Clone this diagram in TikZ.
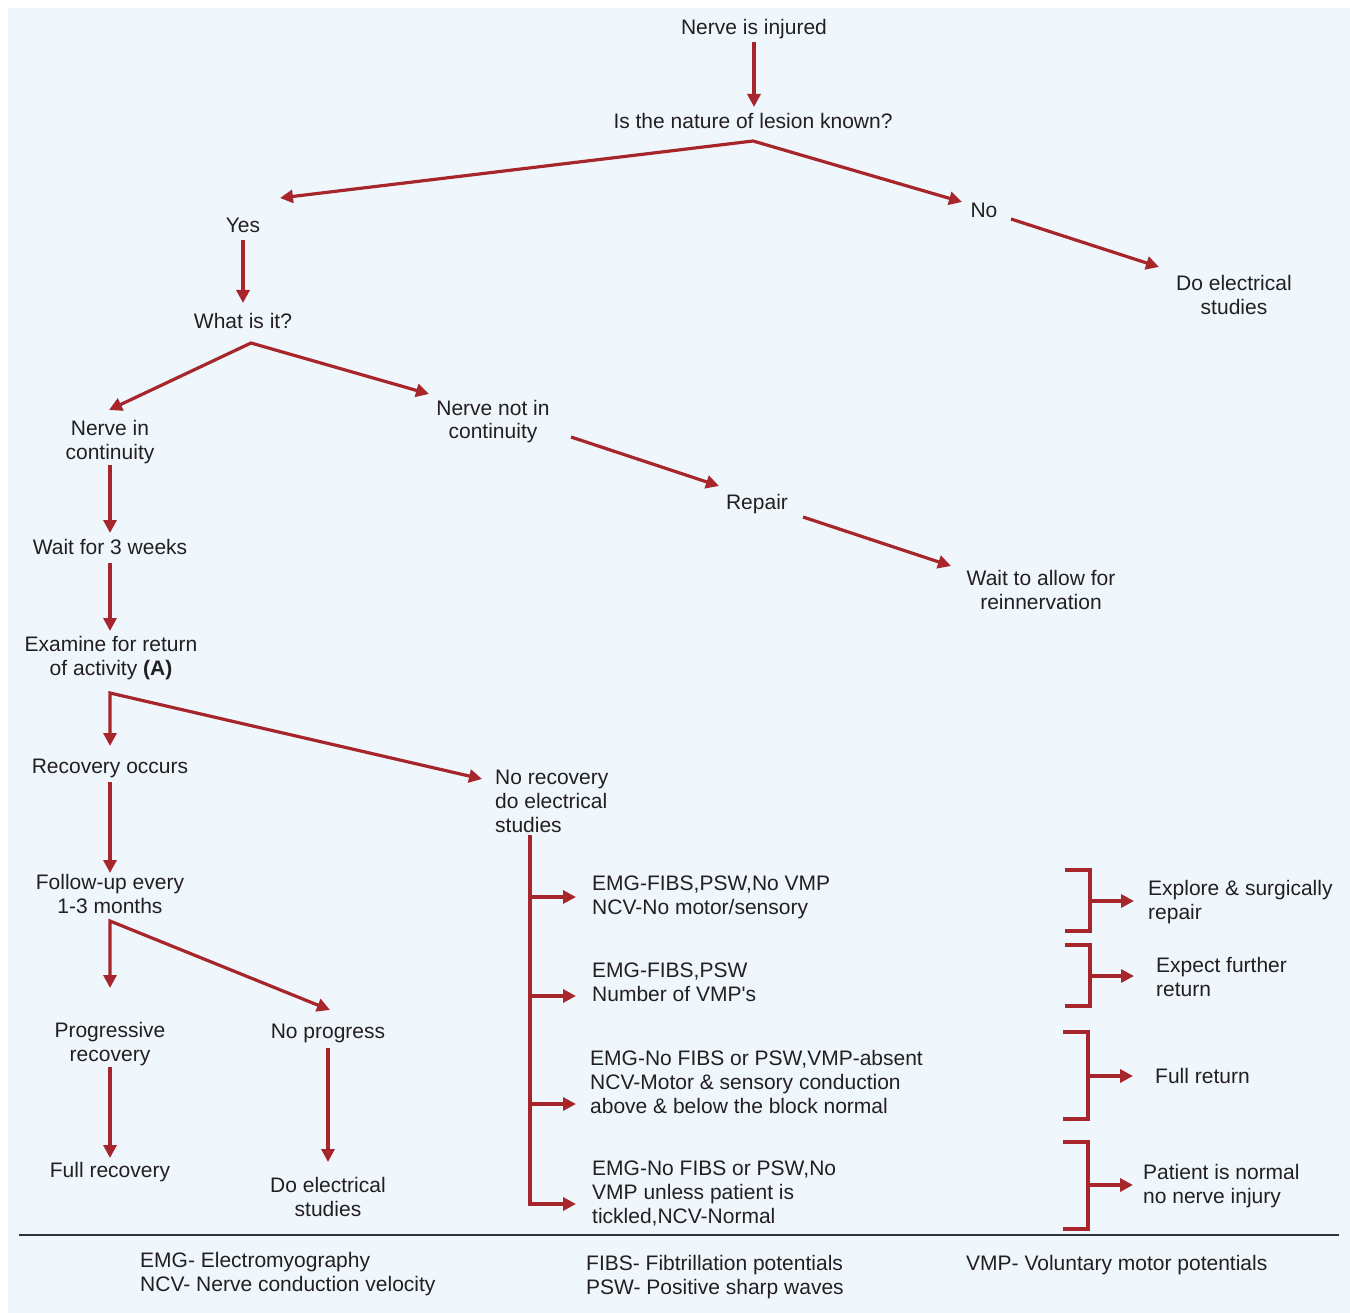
\documentclass[tikz,border=0pt]{standalone}
\usepackage{fontspec}
\setmainfont{Liberation Sans}
\usetikzlibrary{arrows.meta}
\definecolor{bgc}{RGB}{239,247,253}
\definecolor{arrc}{RGB}{166,38,43}
\definecolor{txtc}{RGB}{35,31,32}
\definecolor{rulec}{RGB}{51,51,51}
\begin{document}
\begin{tikzpicture}[x=1pt,y=-1pt,
  lbl/.style={anchor=base, align=center, inner sep=0pt, font=\fontsize{21}{24}\selectfont, text=txtc},
  lbll/.style={lbl, anchor=base west, align=left},
  conn/.style={draw=arrc, line width=3.2pt, -{Triangle[length=13pt,width=13pt]}},
  conntwo/.style={draw=arrc, line width=3.2pt, {Triangle[length=13pt,width=13pt]}-{Triangle[length=13pt,width=13pt]}},
  plainline/.style={draw=arrc, line width=3.2pt},
]
\useasboundingbox (0,0) rectangle (1350,1313);
\fill[bgc] (8,8) rectangle (1350,1313);

% ---------- nodes (base = baseline of last line) ----------
\node[lbl] (n1) at (754,35) {Nerve is injured};
\node[lbl] (n2) at (753,129) {Is the nature of lesion known?};
\node[lbl] (yes) at (243,233) {Yes};
\node[lbl] (no) at (984,218) {No};
\node[lbl] (des1) at (1234,315) {Do electrical\\studies};
\node[lbl] (what) at (243,329) {What is it?};
\node[lbl] (nic) at (110,460) {Nerve in\\continuity};
\node[lbl] (nnic) at (493,439) {Nerve not in\\continuity};
\node[lbl] (repair) at (757,510) {Repair};
\node[lbl] (waitr) at (1041,609) {Wait to allow for\\reinnervation};
\node[lbl] (w3) at (110,554) {Wait for 3 weeks};
\node[lbl] (exam) at (111,675) {Examine for return\\of activity \textbf{(A)}};
\node[lbl] (rec) at (110,773) {Recovery occurs};
\node[lbll] (norec) at (495,832) {No recovery\\do electrical\\studies};
\node[lbl] (fu) at (110,913) {Follow-up every\\1-3 months};
\node[lbl] (prog) at (110,1061) {Progressive\\recovery};
\node[lbl] (nop) at (328,1038) {No progress};
\node[lbl] (fullrec) at (110,1177) {Full recovery};
\node[lbl] (des2) at (328,1216) {Do electrical\\studies};

\node[lbll] (r1) at (592,914) {EMG-FIBS,PSW,No VMP\\NCV-No motor/sensory};
\node[lbll] (r2) at (592,1001) {EMG-FIBS,PSW\\Number of VMP\textquotesingle s};
\node[lbll] (r3) at (590,1113) {EMG-No FIBS or PSW,VMP-absent\\NCV-Motor \& sensory conduction\\above \& below the block normal};
\node[lbll] (r4) at (592,1223) {EMG-No FIBS or PSW,No\\VMP unless patient is\\tickled,NCV-Normal};

\node[lbll] (o1) at (1148,919) {Explore \& surgically\\repair};
\node[lbll] (o2) at (1156,996) {Expect further\\return};
\node[lbll] (o3) at (1155,1083) {Full return};
\node[lbll] (o4) at (1143,1203) {Patient is normal\\no nerve injury};

\node[lbll] (f1) at (140,1291) {EMG- Electromyography\\NCV- Nerve conduction velocity};
\node[lbll] (f2) at (586,1294) {FIBS- Fibtrillation potentials\\PSW- Positive sharp waves};
\node[lbll] (f3) at (966,1270) {VMP- Voluntary motor potentials};

% ---------- coordinates ----------
\coordinate (n1o) at (754,42);   \coordinate (n2i) at (754,107);
\coordinate (n2o) at (753,141);
\coordinate (yesi) at (280,198); \coordinate (noi) at (962,202);
\coordinate (noo) at (1011,219); \coordinate (des1i) at (1159,267);
\coordinate (yeso) at (243,240); \coordinate (whati) at (243,303);
\coordinate (whato) at (251,343);
\coordinate (nici) at (109,410); \coordinate (nnici) at (429,394);
\coordinate (nnico) at (571,437); \coordinate (repairi) at (719,486);
\coordinate (repairo) at (803,517); \coordinate (waitri) at (951,566);
\coordinate (nico) at (110,465); \coordinate (w3i) at (110,533);
\coordinate (w3o) at (110,563); \coordinate (exami) at (110,631);
\coordinate (examo) at (110,693);
\coordinate (reci) at (110,746); \coordinate (noreci) at (482,779);
\coordinate (reco) at (110,782); \coordinate (fui) at (110,873);
\coordinate (fuo) at (110,921);
\coordinate (progi) at (110,988); \coordinate (nopi) at (330,1010);
\coordinate (progo) at (110,1067); \coordinate (fullreci) at (110,1158);
\coordinate (nopo) at (328,1048); \coordinate (des2i) at (328,1162);
\coordinate (noreco) at (530,835);
\coordinate (b1) at (530,897); \coordinate (r1i) at (576,897);
\coordinate (b2) at (530,996); \coordinate (r2i) at (576,996);
\coordinate (b3) at (530,1104); \coordinate (r3i) at (576,1104);
\coordinate (r4i) at (576,1204);

% ---------- connectors ----------
\draw[conn] (n1o) -- (n2i);
\draw[conntwo] (yesi) -- (n2o) -- (noi);
\draw[conn] (noo) -- (des1i);
\draw[conn] (yeso) -- (whati);
\draw[conntwo] (nici) -- (whato) -- (nnici);
\draw[conn] (nnico) -- (repairi);
\draw[conn] (repairo) -- (waitri);
\draw[conn] (nico) -- (w3i);
\draw[conn] (w3o) -- (exami);
\draw[conntwo] (reci) -- (examo) -- (noreci);
\draw[conn] (reco) -- (fui);
\draw[conntwo] (progi) -- (fuo) -- (nopi);
\draw[conn] (progo) -- (fullreci);
\draw[conn] (nopo) -- (des2i);
\draw[conn] (noreco) |- (r4i);
\draw[conn] (b1) -- (r1i);
\draw[conn] (b2) -- (r2i);
\draw[conn] (b3) -- (r3i);

% brackets
\coordinate (k1a) at (1065,870); \coordinate (k1b) at (1090,870); \coordinate (k1c) at (1090,931); \coordinate (k1d) at (1065,931);
\coordinate (k1m) at (1090,901); \coordinate (o1i) at (1134,901);
\coordinate (k2a) at (1065,945); \coordinate (k2b) at (1090,945); \coordinate (k2c) at (1090,1006); \coordinate (k2d) at (1065,1006);
\coordinate (k2m) at (1090,976); \coordinate (o2i) at (1134,976);
\coordinate (k3a) at (1063,1032); \coordinate (k3b) at (1088,1032); \coordinate (k3c) at (1088,1119); \coordinate (k3d) at (1063,1119);
\coordinate (k3m) at (1088,1076); \coordinate (o3i) at (1133,1076);
\coordinate (k4a) at (1063,1142); \coordinate (k4b) at (1088,1142); \coordinate (k4c) at (1088,1229); \coordinate (k4d) at (1063,1229);
\coordinate (k4m) at (1088,1185); \coordinate (o4i) at (1133,1185);
\draw[plainline] (k1a) -- (k1b) -- (k1c) -- (k1d);
\draw[conn] (k1m) -- (o1i);
\draw[plainline] (k2a) -- (k2b) -- (k2c) -- (k2d);
\draw[conn] (k2m) -- (o2i);
\draw[plainline] (k3a) -- (k3b) -- (k3c) -- (k3d);
\draw[conn] (k3m) -- (o3i);
\draw[plainline] (k4a) -- (k4b) -- (k4c) -- (k4d);
\draw[conn] (k4m) -- (o4i);

% footer rule
\coordinate (rl) at (19,1235); \coordinate (rr) at (1339,1235);
\draw[rulec, line width=2.8pt] (rl) -- (rr);
\end{tikzpicture}
\end{document}
